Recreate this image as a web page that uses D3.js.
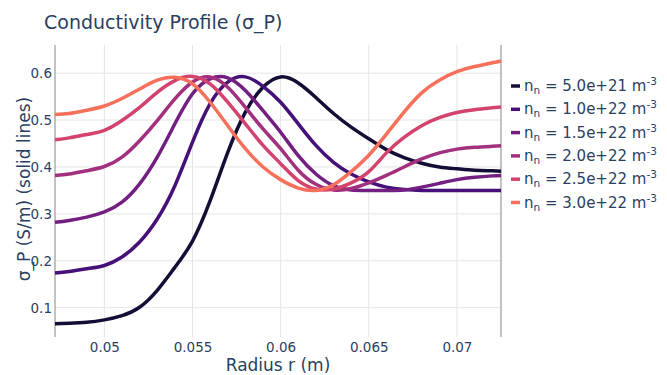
<!DOCTYPE html>
<html><head><meta charset="utf-8">
<script src="https://cdn.jsdelivr.net/npm/d3@7"></script>
<style>body{margin:0;background:#fff}svg{display:block}text{font-family:"DejaVu Sans",Verdana,sans-serif;fill:#2a3f5f}</style>
</head><body><svg id="c" width="667" height="375"></svg>
<script>
const radius = [0.0472,0.048,0.049,0.050,0.051,0.052,0.053,0.054,0.055,0.056,0.057,0.058,0.059,0.060,0.061,0.062,0.063,0.064,0.065,0.066,0.067,0.068,0.069,0.070,0.071,0.072,0.0725];
const labels = ["5.0e+21","1.0e+22","1.5e+22","2.0e+22","2.5e+22","3.0e+22"];
const sigma_5e21  = [0.066,0.067,0.069,0.074,0.083,0.101,0.137,0.186,0.242,0.328,0.431,0.517,0.570,0.592,0.579,0.548,0.514,0.485,0.460,0.437,0.420,0.408,0.400,0.396,0.393,0.392,0.391];
const sigma_1e22  = [0.174,0.177,0.183,0.190,0.208,0.240,0.289,0.360,0.453,0.535,0.581,0.592,0.572,0.538,0.492,0.446,0.410,0.385,0.368,0.357,0.352,0.350,0.350,0.350,0.350,0.350,0.350];
const sigma_15e22 = [0.282,0.286,0.293,0.304,0.325,0.364,0.421,0.492,0.556,0.588,0.590,0.563,0.520,0.474,0.424,0.385,0.360,0.351,0.350,0.350,0.351,0.357,0.365,0.373,0.378,0.381,0.382];
const sigma_2e22  = [0.382,0.385,0.392,0.401,0.421,0.456,0.499,0.545,0.581,0.592,0.570,0.527,0.481,0.439,0.393,0.363,0.351,0.354,0.366,0.382,0.400,0.417,0.430,0.438,0.442,0.444,0.445];
const sigma_25e22 = [0.458,0.462,0.469,0.478,0.499,0.527,0.559,0.584,0.593,0.577,0.538,0.492,0.446,0.407,0.371,0.353,0.353,0.366,0.390,0.430,0.463,0.488,0.505,0.516,0.522,0.526,0.528];
const sigma_3e22  = [0.512,0.514,0.521,0.530,0.546,0.566,0.585,0.591,0.577,0.538,0.488,0.439,0.400,0.373,0.355,0.350,0.362,0.390,0.425,0.470,0.517,0.558,0.585,0.603,0.614,0.622,0.626];
const colors = ["#140e36","#451077","#721f81","#a3307e","#d3436e","#f7705c"];
const xTicks = [0.05,0.055,0.06,0.065,0.07];
const yTicks = [0.1,0.2,0.3,0.4,0.5,0.6];

const series = [sigma_5e21,sigma_1e22,sigma_15e22,sigma_2e22,sigma_25e22,sigma_3e22];
const svg = d3.select("#c");
const L=55,R=501,T=45,B=337;
const x = d3.scaleLinear().domain([0.0472,0.0725]).range([L,R]);
const y = d3.scaleLinear().domain([0.0375,0.66]).range([B,T]);

svg.append("g").selectAll("line").data(xTicks).join("line")
  .attr("x1",d=>x(d)).attr("x2",d=>x(d)).attr("y1",T).attr("y2",B)
  .attr("stroke","#e5e5e5").attr("stroke-width",1);
svg.append("g").selectAll("line").data(yTicks).join("line")
  .attr("x1",L).attr("x2",R).attr("y1",d=>y(d)).attr("y2",d=>y(d))
  .attr("stroke","#e5e5e5").attr("stroke-width",1);

svg.append("line").attr("x1",L).attr("x2",L).attr("y1",T).attr("y2",B).attr("stroke","#999").attr("stroke-width",1.2);
svg.append("line").attr("x1",R).attr("x2",R).attr("y1",T).attr("y2",B).attr("stroke","#999").attr("stroke-width",1.2);

const xa = svg.append("g").attr("transform",`translate(0,${B})`)
  .call(d3.axisBottom(x).tickValues(xTicks).tickFormat(d=>String(+d.toFixed(3))).tickSize(0).tickPadding(5));
xa.select(".domain").remove();
xa.selectAll("text").style("font-size","13.5px").attr("fill","#2a3f5f");
const ya = svg.append("g").attr("transform",`translate(${L},0)`)
  .call(d3.axisLeft(y).tickValues(yTicks).tickFormat(d=>String(+d.toFixed(1))).tickSize(0).tickPadding(3));
ya.select(".domain").remove();
ya.selectAll("text").style("font-size","13.5px").attr("fill","#2a3f5f");

const line = d3.line().x((d,i)=>x(radius[i])).y(d=>y(d)).curve(d3.curveNatural);
svg.append("g").selectAll("path").data(series).join("path")
  .attr("d",line).attr("fill","none").attr("stroke",(d,i)=>colors[i])
  .attr("stroke-width",3.5).attr("stroke-linejoin","round");

svg.append("text").attr("x",44).attr("y",29).style("font-size","19px").text("Conductivity Profile (σ_P)");
svg.append("text").attr("x",(L+R)/2).attr("y",371).attr("text-anchor","middle").style("font-size","17px").text("Radius r (m)");
svg.append("text").attr("transform","translate(30,189) rotate(-90)").attr("text-anchor","middle").style("font-size","17px").text("σ_P (S/m) (solid lines)");

const lg = svg.append("g");
labels.forEach((lab,i)=>{
  const yy = 86 + i*23.3;
  lg.append("line").attr("x1",511).attr("x2",520).attr("y1",yy).attr("y2",yy).attr("stroke",colors[i]).attr("stroke-width",3.5);
  const t = lg.append("text").attr("x",524).attr("y",yy+5).style("font-size","15px");
  t.append("tspan").text("n");
  t.append("tspan").attr("dy",3).style("font-size","10.5px").text("n");
  t.append("tspan").attr("dy",-3).text(" = "+lab+" m");
  t.append("tspan").attr("dy",-6).style("font-size","10.5px").text("-3");
});
</script></body></html>
